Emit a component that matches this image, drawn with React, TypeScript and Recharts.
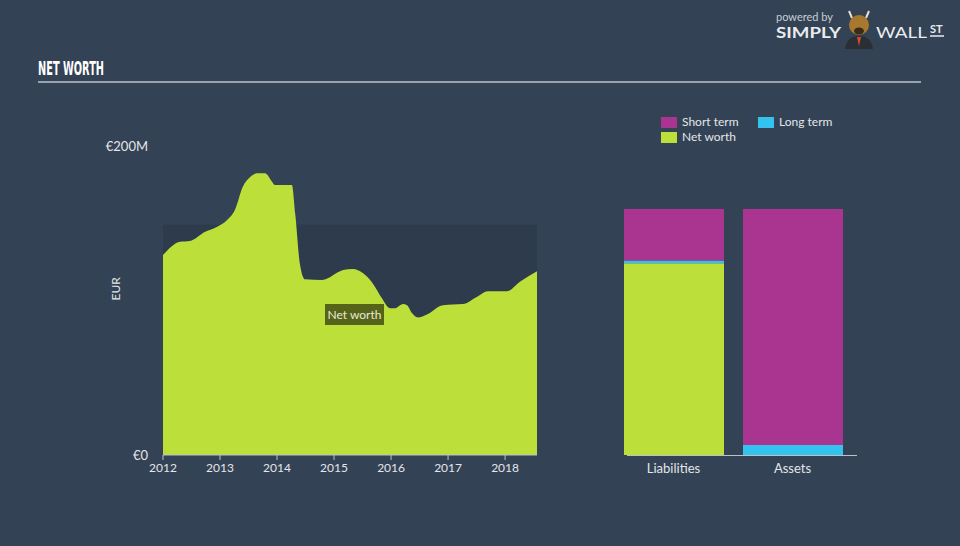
import {
  AreaChart,
  Area,
  BarChart,
  Bar,
  XAxis,
  YAxis,
  ReferenceArea,
} from "recharts";

// Net worth history (EUR millions), date as fractional year
const netWorthDates = [
  2012.0, 2012.3, 2012.47, 2012.74, 2012.95, 2013.12, 2013.26, 2013.4, 2013.53,
  2013.65, 2013.79, 2013.91, 2013.96, 2014.26, 2014.32, 2014.4, 2014.49,
  2014.79, 2015.16, 2015.33, 2015.51, 2015.68, 2015.84, 2015.98, 2016.07,
  2016.21, 2016.28, 2016.37, 2016.47, 2016.63, 2016.91, 2017.26, 2017.51,
  2017.7, 2018.03, 2018.26, 2018.56,
];
const netWorthValues = [
  129.4, 138, 138.5, 144.5, 147.8, 152, 158.6, 173.7, 180, 182.3, 182.3, 177,
  174.8, 174.8, 156, 124, 113.7, 113.3, 119.7, 120.4, 117.6, 111, 101.4, 95, 95,
  97.7, 97, 91.7, 89, 91, 97, 97.7, 102.5, 106, 106, 112.2, 119,
];
const yearTicks = [2012, 2013, 2014, 2015, 2016, 2017, 2018];
const valueTicks = [0, 200];
const assetsBand = 149;

// Latest balance sheet (EUR millions)
const balanceCategories = ["Liabilities", "Assets"];
const netWorthBar = [119, 0];
const longTerm = [1.7, 6.2];
const shortTerm = [32, 146.5];

const BG = "#334254";
const LIME = "#bcdf3a";
const MAGENTA = "#a93590";
const CYAN = "#33c3ee";
const TEXT = "#e3e6ea";
const FONT = "Lato, 'Open Sans', sans-serif";

const historyData = netWorthDates.map((d, i) => ({ date: d, netWorth: netWorthValues[i] }));
const balanceData = balanceCategories.map((c, i) => ({
  name: c,
  netWorth: netWorthBar[i],
  longTerm: longTerm[i],
  shortTerm: shortTerm[i],
}));
const balanceTotal = netWorthBar[0] + longTerm[0] + shortTerm[0];

const legendItems = [
  { label: "Short term", color: MAGENTA, left: 661, top: 116 },
  { label: "Long term", color: CYAN, left: 758, top: 116 },
  { label: "Net worth", color: LIME, left: 661, top: 131 },
];

const App = () => {
  return (
    <div
      style={{
        position: "absolute",
        left: 0,
        top: 0,
        width: 960,
        height: 546,
        background: BG,
        fontFamily: FONT,
        overflow: "hidden",
      }}
    >
      {/* logo */}
      <svg style={{ position: "absolute", left: 760, top: 5 }} width={200} height={45}>
        <text x={16} y={16} fontSize={11} fill="#c9ced4" fontFamily={FONT}>
          powered by
        </text>
        <text
          x={16}
          y={33}
          fontSize={16}
          fontWeight="bold"
          fill="#e9ecef"
          fontFamily={FONT}
          textLength={65}
          lengthAdjust="spacingAndGlyphs"
        >
          SIMPLY
        </text>
        <path d="M89 6 L92 13 M109 6 L106 13" stroke="#e8e0d0" strokeWidth={2} />
        <ellipse cx={99} cy={20} rx={10} ry={10} fill="#a8782e" />
        <ellipse cx={99} cy={26} rx={5} ry={3.5} fill="#3a2a18" />
        <path d="M85 44 Q87 31 99 31 Q111 31 113 44 Z" fill="#2a2f36" />
        <path d="M97 32 L99 41 L101 32 Z" fill="#d94a2a" />
        <text
          x={116}
          y={33}
          fontSize={16}
          fill="#e9ecef"
          fontFamily={FONT}
          textLength={51}
          lengthAdjust="spacingAndGlyphs"
        >
          WALL
        </text>
        <text x={170} y={28} fontSize={11} fontWeight="bold" fill="#e9ecef" fontFamily={FONT}>
          ST
        </text>
        <line x1={170} y1={31} x2={184} y2={31} stroke="#e9ecef" strokeWidth={1.5} />
      </svg>

      {/* title */}
      <svg style={{ position: "absolute", left: 38, top: 56 }} width={120} height={24}>
        <text
          x={0}
          y={19}
          fontSize={20}
          fontWeight="bold"
          fill="#ffffff"
          fontFamily="'Liberation Sans Narrow', 'DejaVu Sans Condensed', sans-serif"
          textLength={66}
          lengthAdjust="spacingAndGlyphs"
        >
          NET WORTH
        </text>
      </svg>
      <div
        style={{
          position: "absolute",
          left: 38,
          top: 81,
          width: 883,
          height: 2,
          background: "#9aa3ad",
        }}
      />

      {/* net worth history */}
      <div style={{ position: "absolute", left: 0, top: 100 }}>
        <AreaChart
          width={560}
          height={400}
          data={historyData}
          margin={{ top: 46, right: 23, bottom: 15, left: 0 }}
        >
          <ReferenceArea
            x1={2012}
            x2={2018.56}
            y1={0}
            y2={assetsBand}
            fill="#2d3b4d"
            fillOpacity={1}
            stroke="none"
          />
          <XAxis
            dataKey="date"
            type="number"
            domain={[2012, 2018.56]}
            ticks={yearTicks}
            allowDataOverflow
            height={30}
            stroke="#b9c1ca"
            tick={{ fill: TEXT, fontSize: 12 }}
            tickSize={5}
            tickMargin={3}
          />
          <YAxis
            width={163}
            domain={[0, 200]}
            ticks={valueTicks}
            tickFormatter={(v: number) => (v === 0 ? "€0" : `€${v}M`)}
            axisLine={false}
            tickLine={false}
            tickSize={0}
            tickMargin={15}
            tick={{ fill: TEXT, fontSize: 13 }}
            label={{
              value: "EUR",
              angle: -90,
              position: "insideLeft",
              offset: 116,
              fill: TEXT,
              fontSize: 12,
            }}
          />
          <Area
            type="monotone"
            dataKey="netWorth"
            fill={LIME}
            fillOpacity={1}
            stroke="none"
            isAnimationActive={false}
          />
        </AreaChart>
      </div>

      <div
        style={{
          position: "absolute",
          left: 325,
          top: 304,
          width: 59,
          height: 21,
          background: "#566419",
          color: "#e6e9d8",
          fontSize: 12,
          lineHeight: "21px",
          textAlign: "center",
        }}
      >
        Net worth
      </div>

      {/* legend */}
      {legendItems.map((item) => (
        <div
          key={item.label}
          style={{
            position: "absolute",
            left: item.left,
            top: item.top,
            display: "flex",
            alignItems: "center",
            fontSize: 12,
            color: TEXT,
            lineHeight: "12px",
          }}
        >
          <span
            style={{
              display: "inline-block",
              width: 16,
              height: 11,
              background: item.color,
              marginRight: 5,
            }}
          />
          {item.label}
        </div>
      ))}

      {/* balance sheet */}
      <div style={{ position: "absolute", left: 560, top: 100 }}>
        <BarChart
          width={400}
          height={400}
          data={balanceData}
          margin={{ top: 109, right: 108, bottom: 15, left: 54 }}
        >
          <XAxis
            dataKey="name"
            height={30}
            axisLine={false}
            tickLine={false}
            tickSize={6}
            tickMargin={3}
            tick={{ fill: TEXT, fontSize: 13 }}
          />
          <YAxis hide domain={[0, balanceTotal]} />
          <Bar dataKey="netWorth" stackId="a" fill={LIME} barSize={100} isAnimationActive={false} />
          <Bar dataKey="longTerm" stackId="a" fill={CYAN} barSize={100} isAnimationActive={false} />
          <Bar dataKey="shortTerm" stackId="a" fill={MAGENTA} barSize={100} isAnimationActive={false} />
        </BarChart>
      </div>
      <div
        style={{
          position: "absolute",
          left: 627,
          top: 455,
          width: 230,
          height: 1,
          background: "#b9c1ca",
        }}
      />
    </div>
  );
};

export default App;
